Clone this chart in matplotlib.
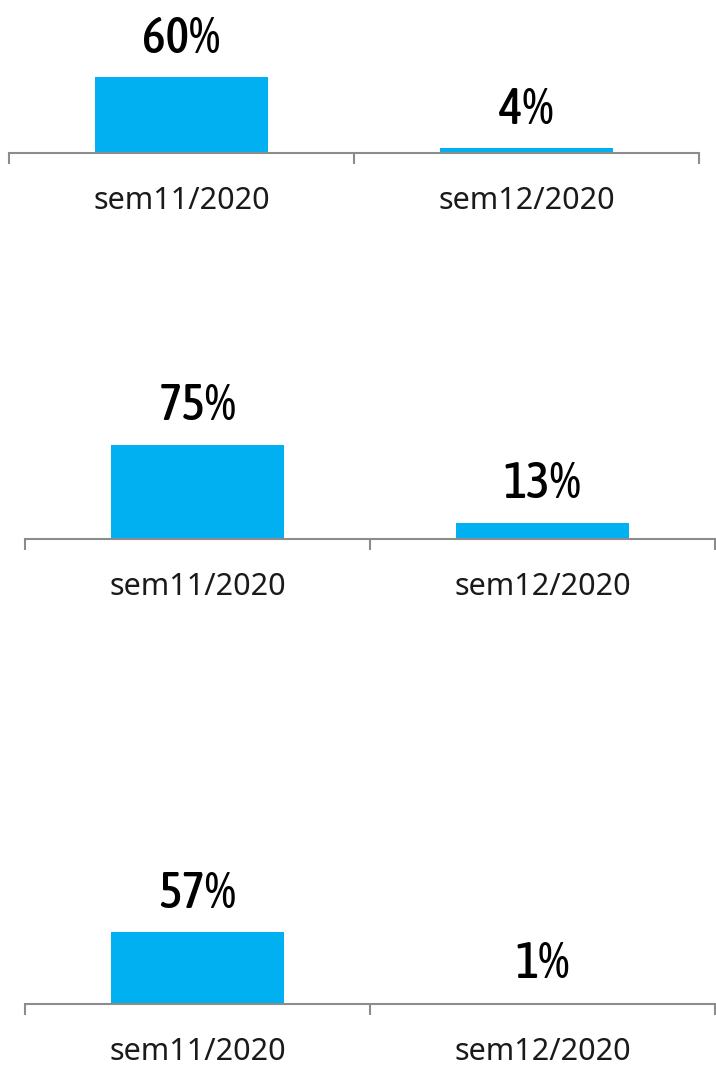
#!/usr/bin/python3

import os

import matplotlib
matplotlib.use('Agg')
import matplotlib.pyplot as plt
from matplotlib import font_manager

# weekly shares, one panel per indicator
weeks = ['sem11/2020', 'sem12/2020']
panel_top = [60, 4]
panel_middle = [75, 13]
panel_bottom = [57, 1]

BAR_COLOR = '#00B0F0'
AXIS_COLOR = '#8c8c8c'
FIG_W, FIG_H = 716, 1079
DPI = 100

STRETCH_RANK = {'ultra-condensed': 0, 'extra-condensed': 1, 'condensed': 2,
                'semi-condensed': 4}


def pick_value_font(size):
    # narrowest sans face available for the big percentage labels
    best, best_key = None, None
    for f in font_manager.fontManager.ttflist:
        fname = os.path.basename(f.fname).lower()
        if 'mono' in fname or 'serif' in fname and 'sans' not in fname:
            continue
        if 'italic' in fname or 'oblique' in fname:
            continue
        rank = STRETCH_RANK.get(f.stretch if isinstance(f.stretch, str) else '', None)
        if rank is None:
            if 'extracondensed' in fname:
                rank = 1
            elif 'condensed' in fname or 'narrow' in fname:
                rank = 3
            else:
                continue
        weight = f.weight if isinstance(f.weight, int) else 400
        key = (rank, abs(weight - 500))
        if best_key is None or key < best_key:
            best, best_key = f.fname, key
    if best:
        return font_manager.FontProperties(fname=best, size=size)
    return font_manager.FontProperties(family='DejaVu Sans', size=size)


def px_axes(fig, left, axis_y, width, height):
    # place an axes in pixel units, axis_y is the baseline row (from top)
    return fig.add_axes([left / FIG_W, (FIG_H - axis_y) / FIG_H,
                         width / FIG_W, height / FIG_H])


def draw_panel(ax, values, value_font):
    x = range(len(values))
    ax.bar(x, values, width=0.5, color=BAR_COLOR)
    ax.set_xlim(-0.5, len(values) - 0.5)
    ax.set_ylim(0, 100)

    for side in ('top', 'right', 'left'):
        ax.spines[side].set_visible(False)
    ax.spines['bottom'].set_color(AXIS_COLOR)
    ax.spines['bottom'].set_linewidth(1.5)
    ax.set_yticks([])

    # category boundaries carry the tick marks, labels sit in between
    ax.set_xticks([i - 0.5 for i in range(len(values) + 1)])
    ax.set_xticklabels([])
    ax.tick_params(axis='x', which='major', length=8, width=1.5,
                   color=AXIS_COLOR, direction='out')
    ax.set_xticks(list(x), minor=True)
    ax.set_xticklabels(weeks, minor=True, fontsize=22,
                       family=['Noto Sans', 'DejaVu Sans'], color='#1a1a1a')
    ax.tick_params(axis='x', which='minor', length=0, pad=24)

    for i, v in zip(x, values):
        ax.annotate(f'{v}%', (i, v), xytext=(0, 17.5), textcoords='offset points',
                    ha='center', va='baseline', fontproperties=value_font,
                    color='black', annotation_clip=False)


def main():
    value_font = pick_value_font(36)
    fig = plt.figure(figsize=(FIG_W / DPI, FIG_H / DPI), dpi=DPI)
    fig.patch.set_facecolor('white')

    layout = [
        (panel_top, 9, 153),
        (panel_middle, 25, 539),
        (panel_bottom, 25, 1004),
    ]
    for values, left, axis_y in layout:
        ax = px_axes(fig, left, axis_y, 690, 126)
        draw_panel(ax, values, value_font)

    fig.savefig('out.png', dpi=DPI, facecolor='white')
    plt.close(fig)


if __name__ == '__main__':
    main()
